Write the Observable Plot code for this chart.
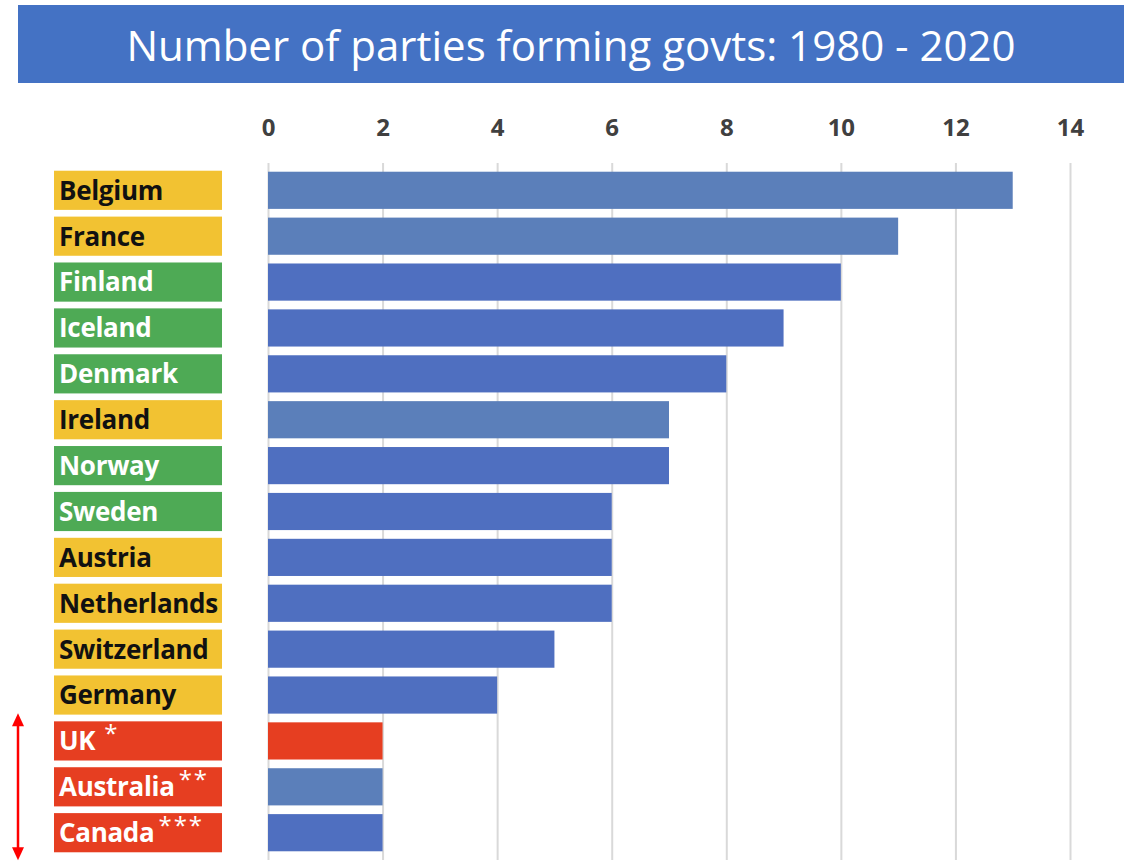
<!DOCTYPE html>
<html>
<head>
<meta charset="utf-8">
<script src="https://cdn.jsdelivr.net/npm/d3@7"></script>
<script src="https://cdn.jsdelivr.net/npm/@observablehq/plot@0.6"></script>
<style>
  html, body { margin: 0; padding: 0; background: #ffffff; }
  body { width: 1124px; height: 862px; position: relative; overflow: hidden; font-family: "Open Sans", sans-serif; }
  #title {
    position: absolute; left: 18px; top: 5px; width: 1106px; height: 78px;
    background: #4472C4; color: #ffffff; font-family: "Open Sans", sans-serif;
    font-size: 42px; font-weight: 400; display: flex; align-items: center; justify-content: center;
  }
  #chart { position: absolute; left: 0; top: 90px; line-height: 0; }
  #chart svg { display: block; }
</style>
</head>
<body>
<div id="title">Number of parties forming govts: 1980 - 2020</div>
<div id="chart"></div>
<script>
// ---- data ----
const countries = ["Belgium", "France", "Finland", "Iceland", "Denmark", "Ireland", "Norway", "Sweden",
  "Austria", "Netherlands", "Switzerland", "Germany", "UK", "Australia", "Canada"];
const parties = [13, 11, 10, 9, 8, 7, 7, 6, 6, 6, 5, 4, 2, 2, 2];
const groups = ["Continental", "Continental", "Nordic", "Nordic", "Nordic", "Continental", "Nordic", "Nordic",
  "Continental", "Continental", "Continental", "Continental", "Westminster", "Westminster", "Westminster"];
const barTone = ["steel", "steel", "royal", "royal", "royal", "steel", "royal", "royal",
  "royal", "royal", "royal", "royal", "highlight", "steel", "royal"];
const notes = ["", "", "", "", "", "", "", "", "", "", "", "", "*", "**", "***"];
const xTicks = [0, 2, 4, 6, 8, 10, 12, 14];

const data = countries.map((c, i) => ({country: c, parties: parties[i], group: groups[i], tone: barTone[i], note: notes[i]}));

// ---- styles ----
const toneColors = {steel: "#5B7FBA", royal: "#4F6FC0", highlight: "#E63E21"};
const groupFill = {Continental: "#F2C232", Nordic: "#4EAA55", Westminster: "#E63E21"};
const groupText = {Continental: "#111111", Nordic: "#ffffff", Westminster: "#ffffff"};
const yPadding = 0.19;
const labelLeft = 54, labelRight = 222;

function labelsMark(index, scales, values, dimensions) {
  const y = scales.y;
  const step = y(countries[1]) - y(countries[0]);
  const bw = step * (1 - yPadding);
  const g = d3.create("svg:g").attr("text-anchor", "start");
  for (const d of data) {
    const top = y(d.country);
    g.append("rect")
      .attr("x", labelLeft).attr("y", top - 1)
      .attr("width", labelRight - labelLeft).attr("height", bw + 2)
      .attr("fill", groupFill[d.group]);
    const t = g.append("text")
      .attr("x", labelLeft + 5).attr("y", top + bw / 2)
      .attr("dy", "0.36em")
      .attr("text-anchor", "start")
      .attr("fill", groupText[d.group])
      .attr("font-family", "Open Sans, sans-serif")
      .attr("font-weight", "bold").attr("font-size", 26)
      .attr("letter-spacing", "-0.3px");
    t.append("tspan").text(d.country);
    if (d.note) {
      t.append("tspan").attr("dx", d.country === "UK" ? 9 : 4).attr("dy", "-0.35em")
        .attr("font-weight", "normal").attr("font-size", 24).attr("letter-spacing", "2px")
        .text(d.note);
    }
  }
  // double-headed arrow spanning the Westminster rows
  const west = data.filter(d => d.group === "Westminster");
  const y0 = y(west[0].country) - 9;
  const y1 = y(west[west.length - 1].country) + bw + 9;
  const ax = 18;
  g.append("line").attr("x1", ax).attr("x2", ax).attr("y1", y0 + 10).attr("y2", y1 - 10)
    .attr("stroke", "#FF0000").attr("stroke-width", 2.5);
  g.append("path").attr("d", `M${ax},${y0}L${ax - 6},${y0 + 13}L${ax + 6},${y0 + 13}Z`).attr("fill", "#FF0000");
  g.append("path").attr("d", `M${ax},${y1}L${ax - 6},${y1 - 13}L${ax + 6},${y1 - 13}Z`).attr("fill", "#FF0000");
  return g.node();
}

const chart = Plot.plot({
  width: 1124,
  height: 772,
  marginLeft: 268,
  marginRight: 54,
  marginTop: 73,
  marginBottom: 2,
  style: {fontFamily: "Open Sans, sans-serif", background: "#ffffff", overflow: "visible"},
  x: {domain: [0, 14], label: null},
  y: {domain: countries, padding: yPadding, round: false, axis: null},
  marks: [
    Plot.ruleX(xTicks, {stroke: "#D9D9D9", strokeWidth: 2}),
    Plot.barX(data, {x: "parties", y: "country", fill: d => toneColors[d.tone]}),
    Plot.axisX({anchor: "top", ticks: xTicks, tickSize: 0, tickPadding: 28, fontSize: 24, fontWeight: "bold", fill: "#404040", label: null}),
    labelsMark
  ]
});
document.getElementById("chart").append(chart);
</script>
</body>
</html>
